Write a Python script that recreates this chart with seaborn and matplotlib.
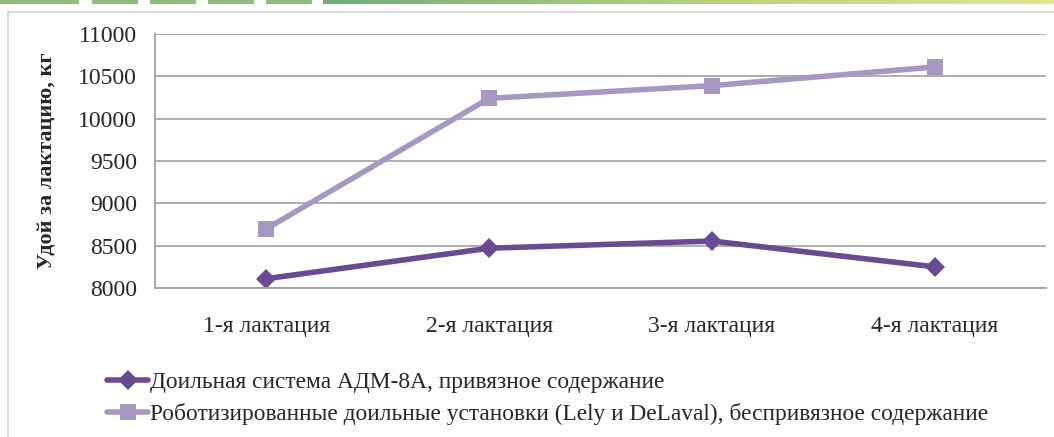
import numpy as np
import pandas as pd
import matplotlib
matplotlib.use("Agg")
import matplotlib.pyplot as plt
import seaborn as sns
from matplotlib.patches import Rectangle

# data
lactations = ["1-я лактация", "2-я лактация", "3-я лактация", "4-я лактация"]
adm_yield = [8110, 8470, 8555, 8250]
robot_yield = [8700, 10240, 10390, 10610]
series_names = [
    "Доильная система АДМ-8А, привязное содержание",
    "Роботизированные доильные установки (Lely и DeLaval), беспривязное содержание",
]
y_ticks = [8000, 8500, 9000, 9500, 10000, 10500, 11000]

sns.set_style("white")
plt.rcParams["font.family"] = ["Liberation Serif", "DejaVu Serif"]

W, H = 1054, 437
fig = plt.figure(figsize=(W / 100, H / 100), dpi=100)

# decorative strip at the very top
strip_color = "#8cbf7e"
for x0 in [0, 33, 92, 150, 208, 266]:
    fig.add_artist(Rectangle((x0 / W, 1 - 4 / H), 46 / W, 4 / H,
                             transform=fig.transFigure, color=strip_color, lw=0))
gax = fig.add_axes([323 / W, 1 - 4 / H, 1 - 323 / W, 4 / H])
grad = np.linspace(0, 1, 256)[None, :]
cmap = matplotlib.colors.LinearSegmentedColormap.from_list("g", ["#6fae78", "#b5d17c", "#e3e68a"])
gax.imshow(grad, aspect="auto", cmap=cmap)
gax.axis("off")

# chart frame
fig.add_artist(Rectangle((8 / W, -0.01), 1.0, 1 - 12 / H + 0.01,
                         transform=fig.transFigure, fill=False,
                         edgecolor="#d4d4d4", lw=1.2))

ax = fig.add_axes([155 / W, 1 - 288 / H, (1046 - 155) / W, (288 - 34) / H])

dark = "#6a4b93"
light = "#a797c5"

df = pd.DataFrame({"lact": lactations, "adm": adm_yield, "robot": robot_yield})
sns.lineplot(data=df, x="lact", y="adm", ax=ax, color=dark, lw=4,
             marker="D", markersize=10, markeredgewidth=0, sort=False,
             label=series_names[0])
sns.lineplot(data=df, x="lact", y="robot", ax=ax, color=light, lw=4,
             marker="s", markersize=12, markeredgewidth=0, sort=False,
             label=series_names[1])

ax.set_xlim(-0.5, 3.5)
ax.set_ylim(8000, 11000)
ax.set_yticks(y_ticks)
ax.set_yticklabels([str(v) for v in y_ticks], fontsize=17)
ax.set_xticks(range(len(lactations)))
ax.set_xticklabels(lactations, fontsize=17)
ax.set_xticks(np.arange(-0.5, 4, 1), minor=True)
ax.tick_params(axis="x", which="major", length=0, pad=20)
ax.tick_params(axis="x", which="minor", length=7, color="#a0a0a0", direction="out")
ax.tick_params(axis="y", length=7, color="#a0a0a0", direction="out", pad=6)
ax.grid(axis="y", color="#a8a8a8", lw=1.3)
ax.set_axisbelow(True)
for s in ["top", "right"]:
    ax.spines[s].set_visible(False)
for s in ["left", "bottom"]:
    ax.spines[s].set_color("#a0a0a0")
    ax.spines[s].set_linewidth(1.3)
ax.set_xlabel("")
ax.set_ylabel("Удой за лактацию, кг", fontsize=16, fontweight="bold", labelpad=15)

ax.legend_.remove()
handles, labels = ax.get_legend_handles_labels()
fig.legend(handles, labels, loc="upper left", bbox_to_anchor=(98 / W, 1 - 362 / H),
           frameon=False, fontsize=16.8, handlelength=1.75, handletextpad=0.1,
           labelspacing=0.45, borderaxespad=0)

fig.savefig("out.png", dpi=100)
